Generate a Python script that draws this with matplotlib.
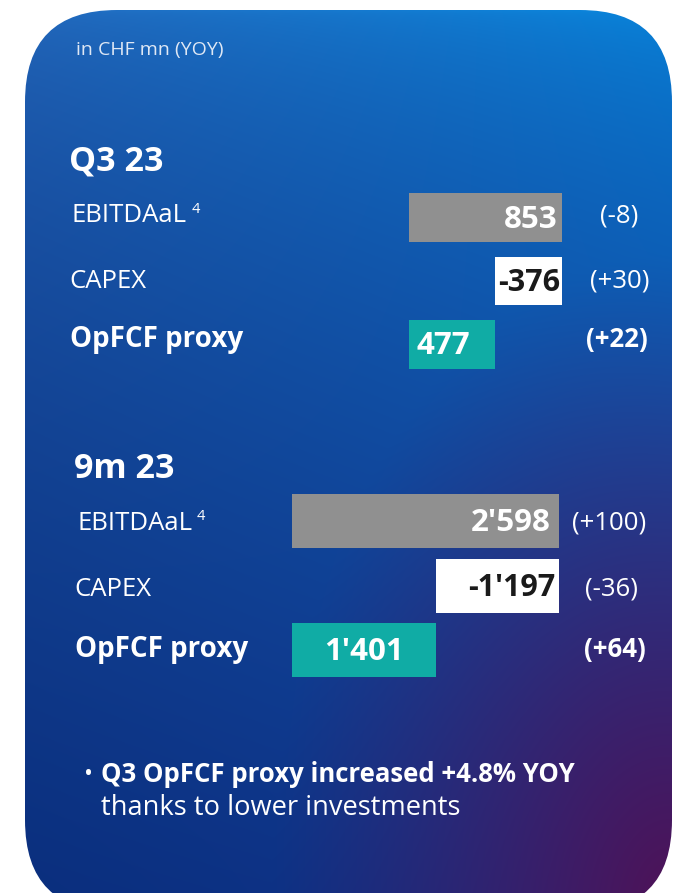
import numpy as np
import matplotlib
matplotlib.use("Agg")
import matplotlib.pyplot as plt
from matplotlib.patches import FancyBboxPatch

# ---------------- data ----------------
unit_note = "in CHF mn (YOY)"
periods = ["Q3 23", "9m 23"]
row_labels = ["EBITDAaL", "CAPEX", "OpFCF proxy"]
footnote = "4"
q3_values = [853, -376, 477]
q3_changes = ["(-8)", "(+30)", "(+22)"]
m9_values = [2598, -1197, 1401]
m9_changes = ["(+100)", "(-36)", "(+64)"]
value_labels_q3 = ["853", "-376", "477"]
value_labels_m9 = ["2'598", "-1'197", "1'401"]
bullet_bold = "Q3 OpFCF proxy increased +4.8% YOY"
bullet_rest = "thanks to lower investments"

FONT = "Open Sans"
plt.rcParams["font.family"] = [FONT, "DejaVu Sans"]

W, H = 682, 893
fig = plt.figure(figsize=(W / 100, H / 100), dpi=100)
fig.patch.set_facecolor("white")
ax = fig.add_axes([0, 0, 1, 1])
ax.set_xlim(0, W)
ax.set_ylim(H, 0)
ax.axis("off")

# ---------------- gradient background ----------------
x0, x1, y0, y1 = 25, 672, 10, 912
nx, ny = 300, 400
u = np.linspace(0, 1, nx)[None, :]
v = np.linspace(0, 1, ny)[:, None]
tl = np.array([0.14, 0.42, 0.75])
tr = np.array([0.03, 0.53, 0.87])
bl = np.array([0.04, 0.18, 0.49])
br = np.array([0.07, 0.21, 0.56])
top = tl[None, None, :] * (1 - u[..., None]) + tr[None, None, :] * u[..., None]
bot = bl[None, None, :] * (1 - u[..., None]) + br[None, None, :] * u[..., None]
t = (v ** 0.55)[..., None]
img = top * (1 - t) + bot * t
purple = np.array([0.31, 0.07, 0.34])
r = np.sqrt(((1 - u) * 1.0) ** 2 + ((1 - v) * 0.85) ** 2)
w = np.clip(1 - r / 0.62, 0, 1) ** 1.1
img = img * (1 - w[..., None]) + purple[None, None, :] * w[..., None]
im = ax.imshow(img, extent=(x0, x1, y1, y0), aspect="auto", zorder=0,
               interpolation="bilinear")
clip = FancyBboxPatch((x0, y0), x1 - x0, y1 - y0,
                      boxstyle="round,pad=0,rounding_size=92",
                      transform=ax.transData, facecolor="none", edgecolor="none")
ax.add_patch(clip)
im.set_clip_path(clip)
ax.set_xlim(0, W)
ax.set_ylim(H, 0)

# ---------------- texts ----------------
ax.text(76, 50, unit_note, color="#dfe8f5", fontsize=14, va="center", ha="left")


def rect_px(left, top, width, height):
    return [left / W, 1 - (top + height) / H, width / W, height / H]


def section(title, title_xy, label_x, row_y, change_x, changes, values, labels,
            bar_ax_rect, bar_height, opfcf_label_x):
    ax.text(title_xy[0], title_xy[1], title, color="white", fontsize=24.5,
            fontweight="bold", va="center", ha="left")
    for i, (lab, yy) in enumerate(zip(row_labels, row_y)):
        if i < 2:
            t_ = ax.text(label_x[i], yy, lab, color="white", fontsize=18.5,
                         va="center", ha="left")
            if i == 0:
                ax.annotate(footnote, xy=(1, 1), xycoords=t_,
                            xytext=(3, 1), textcoords="offset points",
                            color="white", fontsize=10.5, va="top", ha="left")
        else:
            ax.text(label_x[i], yy, lab, color="white", fontsize=20,
                    fontweight="bold", va="center", ha="left")
    for i, (ch, yy, cx) in enumerate(zip(changes, row_y, change_x)):
        ax.text(cx, yy, ch, color="white", fontsize=18.5,
                fontweight="bold" if i == 2 else "normal",
                va="center", ha="center")
    # bars (waterfall)
    bax = fig.add_axes(bar_ax_rect)
    bax.patch.set_alpha(0)
    bax.axis("off")
    ebit, capex, opfcf = values
    starts = [0, ebit + capex, 0]
    widths = [ebit, -capex, opfcf]
    colors = ["#909090", "white", "#10aca5"]
    bax.barh([0, 1, 2], widths, left=starts, height=bar_height,
             color=colors, edgecolor="none")
    bax.set_xlim(0, ebit)
    bax.set_ylim(2.5, -0.5)
    pad = ebit * 0.03
    bax.text(ebit - pad, 0.03, labels[0], color="white", fontsize=22.5,
             fontweight="bold", ha="right", va="center")
    bax.text(ebit - pad * 0.4, 1.03, labels[1], color="#1a1a1a", fontsize=22,
             fontweight="bold", ha="right", va="center")
    bax.text(opfcf_label_x * opfcf, 2.03, labels[2], color="white", fontsize=22.5,
             fontweight="bold", ha="center", va="center")
    return bax


# Q3 23
section(periods[0], (69, 162), [72, 69, 70], [216, 281, 339],
        [619, 620, 617], q3_changes, q3_values, value_labels_q3,
        rect_px(409, 186, 153, 3 * 63.3), 0.77, 0.4)

# 9m 23
section(periods[1], (74, 469), [77, 74, 75], [523, 589, 650],
        [609, 611, 615], m9_changes, m9_values, value_labels_m9,
        rect_px(292, 489, 267, 3 * 64.5), 0.83, 0.5)

# bullet
ax.text(84, 775, "•", color="white", fontsize=17, va="center", ha="left")
ax.text(101, 775, bullet_bold, color="white", fontsize=18.5, fontweight="bold",
        va="center", ha="left")
ax.text(101, 808, bullet_rest, color="white", fontsize=19.6, va="center", ha="left")

fig.savefig("out.png", dpi=100, facecolor="white")
